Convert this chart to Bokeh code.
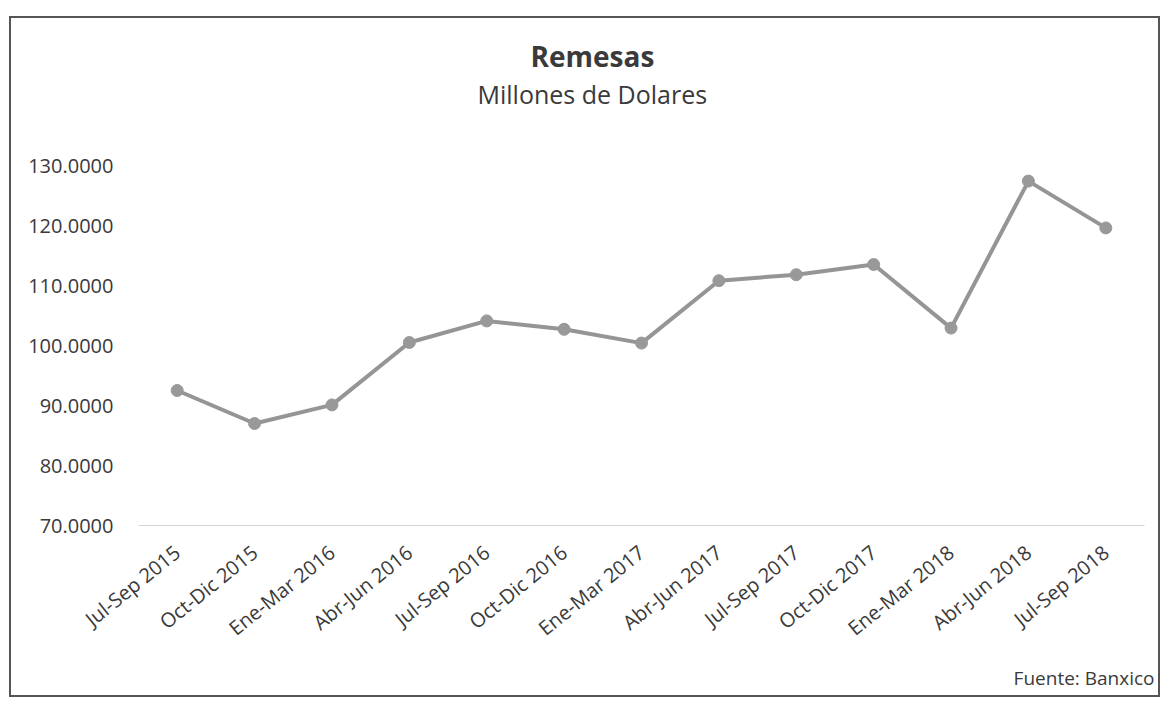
from bokeh.plotting import figure
from bokeh.models import Title, FactorRange, Range1d, NumeralTickFormatter, FixedTicker
from bokeh.embed import file_html
from bokeh.resources import INLINE

periodos = ["Jul-Sep 2015", "Oct-Dic 2015", "Ene-Mar 2016", "Abr-Jun 2016",
            "Jul-Sep 2016", "Oct-Dic 2016", "Ene-Mar 2017", "Abr-Jun 2017",
            "Jul-Sep 2017", "Oct-Dic 2017", "Ene-Mar 2018", "Abr-Jun 2018",
            "Jul-Sep 2018"]
remesas = [92.5, 87.0, 90.1, 100.5, 104.1, 102.7, 100.4, 110.8,
           111.8, 113.5, 102.9, 127.4, 119.6]
y_ticks = [70, 80, 90, 100, 110, 120, 130]

titulo = "Remesas"
subtitulo = "Millones de Dolares"
fuente = "Fuente: Banxico"

FONT = "Open Sans"
TXT = "#3a3a3a"
W, H = 1151, 681

p = figure(width=W, height=H, x_range=FactorRange(*periodos, range_padding=0),
           y_range=Range1d(70, 130), output_backend="svg", toolbar_location=None,
           title=None,
           min_border_left=127, min_border_right=18, min_border_top=147,
           min_border_bottom=174)
p.margin = (16, 0, 0, 9)
p.styles = {"border": "2px solid #555555", "box-sizing": "border-box"}
p.outline_line_color = None
p.xgrid.grid_line_color = None
p.ygrid.grid_line_color = None
p.background_fill_color = "white"
p.border_fill_color = "white"

p.line(periodos, remesas, line_color="#959595", line_width=4)
p.scatter(periodos, remesas, size=12, fill_color="#999999", line_color="#999999")

p.yaxis.ticker = FixedTicker(ticks=y_ticks)
p.yaxis.formatter = NumeralTickFormatter(format="0.0000")
p.yaxis.axis_line_color = None
p.yaxis.major_tick_line_color = None
p.yaxis.minor_tick_line_color = None
p.yaxis.major_label_standoff = 19
p.yaxis.major_label_text_font = FONT
p.yaxis.major_label_text_font_size = "20px"
p.yaxis.major_label_text_color = TXT

p.xaxis.axis_line_color = "#d4d4d4"
p.xaxis.axis_line_width = 1
p.xaxis.major_tick_line_color = None
p.xaxis.minor_tick_line_color = None
p.xaxis.major_label_orientation = 0.68
p.xaxis.major_label_standoff = 18
p.xaxis.major_label_text_font = FONT
p.xaxis.major_label_text_font_size = "20px"
p.xaxis.major_label_text_color = TXT

# spacer between the frame and the subtitle
p.add_layout(Title(text=" ", text_font_size="2px", standoff=51), "above")
p.add_layout(Title(text=subtitulo, align="left", text_font=FONT,
                   text_font_size="25px", text_font_style="normal",
                   text_color=TXT, standoff=0, offset=339), "above")
p.add_layout(Title(text=titulo, align="left", text_font=FONT,
                   text_font_size="28px", text_font_style="bold",
                   text_color=TXT, standoff=0, offset=392), "above")
p.add_layout(Title(text=fuente, align="right", text_font=FONT,
                   text_font_size="19px", text_font_style="normal",
                   text_color=TXT, standoff=16, offset=-10), "below")

open("out.html", "w").write(file_html(p, INLINE))
